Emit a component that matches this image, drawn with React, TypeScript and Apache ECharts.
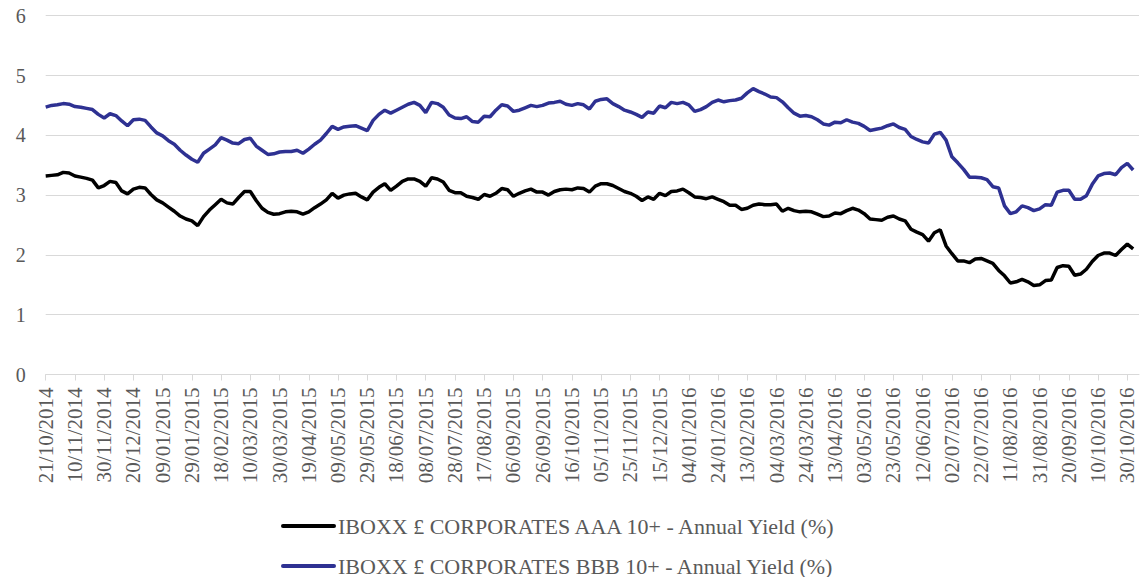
import React, { useEffect, useRef } from "react";
import * as echarts from "echarts";

// Sampling: one category every 4 calendar days, starting 21/10/2014
const START_UTC = Date.UTC(2014, 9, 21);
const STEP_DAYS = 4;
const CATEGORY_COUNT = 188;
const LABEL_EVERY = 5; // one label per 20 days

const pad = (n: number) => String(n).padStart(2, "0");
const categories: string[] = Array.from({ length: CATEGORY_COUNT }, (_, i) => {
  const d = new Date(START_UTC + i * STEP_DAYS * 86400000);
  return `${pad(d.getUTCDate())}/${pad(d.getUTCMonth() + 1)}/${d.getUTCFullYear()}`;
});

const yTicks = { min: 0, max: 6, interval: 1 };
const yTickValues = [0, 1, 2, 3, 4, 5, 6];

const seriesNames = [
  "IBOXX £ CORPORATES AAA 10+ - Annual Yield (%)",
  "IBOXX £ CORPORATES BBB 10+ - Annual Yield (%)",
];

const aaaValues: number[] = [
  3.32, 3.33, 3.34, 3.38, 3.37, 3.32, 3.30, 3.28, 3.25, 3.12,
  3.16, 3.23, 3.21, 3.07, 3.02, 3.10, 3.13, 3.12, 3.01, 2.92,
  2.87, 2.80, 2.73, 2.65, 2.60, 2.57, 2.49, 2.64, 2.75, 2.84,
  2.93, 2.87, 2.85, 2.96, 3.06, 3.06, 2.91, 2.78, 2.71, 2.68,
  2.69, 2.72, 2.73, 2.72, 2.68, 2.72, 2.79, 2.85, 2.92, 3.03,
  2.95, 3.00, 3.02, 3.03, 2.97, 2.92, 3.05, 3.13, 3.19, 3.08,
  3.15, 3.23, 3.27, 3.27, 3.23, 3.15, 3.29, 3.27, 3.22, 3.08,
  3.04, 3.04, 2.98, 2.96, 2.93, 3.01, 2.98, 3.03, 3.11, 3.09,
  2.98, 3.03, 3.07, 3.10, 3.05, 3.05, 3.00, 3.06, 3.09, 3.10,
  3.09, 3.12, 3.11, 3.05, 3.15, 3.19, 3.19, 3.16, 3.11, 3.06,
  3.03, 2.98, 2.91, 2.97, 2.93, 3.03, 2.99, 3.06, 3.07, 3.10,
  3.04, 2.97, 2.96, 2.94, 2.97, 2.93, 2.89, 2.83, 2.83, 2.76,
  2.78, 2.83, 2.85, 2.84, 2.84, 2.85, 2.73, 2.78, 2.74, 2.72,
  2.73, 2.72, 2.68, 2.64, 2.65, 2.70, 2.69, 2.74, 2.78, 2.75,
  2.69, 2.60, 2.59, 2.58, 2.63, 2.65, 2.60, 2.57, 2.43, 2.38,
  2.34, 2.23, 2.37, 2.42, 2.15, 2.02, 1.90, 1.90, 1.87, 1.93,
  1.94, 1.90, 1.86, 1.74, 1.65, 1.53, 1.55, 1.59, 1.55, 1.49,
  1.50, 1.57, 1.58, 1.79, 1.82, 1.81, 1.66, 1.68, 1.76, 1.89,
  1.99, 2.03, 2.03, 1.99, 2.09, 2.18, 2.10,
];

const bbbValues: number[] = [
  4.47, 4.50, 4.51, 4.53, 4.52, 4.48, 4.47, 4.45, 4.43, 4.35,
  4.29, 4.36, 4.33, 4.24, 4.16, 4.26, 4.27, 4.25, 4.14, 4.04,
  3.99, 3.91, 3.85, 3.75, 3.67, 3.60, 3.55, 3.70, 3.77, 3.84,
  3.96, 3.92, 3.87, 3.86, 3.93, 3.95, 3.82, 3.75, 3.68, 3.69,
  3.72, 3.73, 3.73, 3.75, 3.70, 3.77, 3.85, 3.92, 4.03, 4.15,
  4.10, 4.14, 4.15, 4.16, 4.12, 4.08, 4.25, 4.35, 4.42, 4.37,
  4.42, 4.47, 4.52, 4.55, 4.50, 4.38, 4.55, 4.53, 4.47, 4.34,
  4.29, 4.28, 4.31, 4.23, 4.22, 4.32, 4.31, 4.42, 4.51, 4.49,
  4.40, 4.42, 4.46, 4.50, 4.48, 4.50, 4.54, 4.55, 4.57, 4.52,
  4.50, 4.53, 4.51, 4.44, 4.57, 4.60, 4.61, 4.53, 4.48, 4.42,
  4.39, 4.35, 4.30, 4.39, 4.37, 4.49, 4.46, 4.55, 4.53, 4.55,
  4.51, 4.40, 4.43, 4.48, 4.55, 4.59, 4.56, 4.58, 4.59, 4.62,
  4.71, 4.78, 4.73, 4.69, 4.64, 4.63, 4.56, 4.46, 4.37, 4.32,
  4.33, 4.31, 4.26, 4.19, 4.17, 4.22, 4.21, 4.26, 4.22, 4.20,
  4.15, 4.08, 4.10, 4.12, 4.16, 4.19, 4.13, 4.10, 3.98, 3.93,
  3.89, 3.87, 4.02, 4.05, 3.92, 3.64, 3.54, 3.43, 3.30, 3.30,
  3.29, 3.26, 3.14, 3.12, 2.82, 2.69, 2.72, 2.82, 2.79, 2.74,
  2.77, 2.84, 2.83, 3.05, 3.08, 3.08, 2.93, 2.93, 2.99, 3.18,
  3.32, 3.36, 3.37, 3.34, 3.46, 3.53, 3.42,
];

const FONT = "Liberation Serif";
const TEXT_COLOR = "#595959";
const GRID_COLOR = "#d9d9d9";
const COLORS = ["#000000", "#2E3192"];
const GRID = { left: 45.7, right: 1, top: 15.7, bottom: 202.5 };

export default function App() {
  const ref = useRef<HTMLDivElement>(null);

  useEffect(() => {
    document.body.style.margin = "0";
    if (!ref.current) return;
    const chart = echarts.init(ref.current, undefined, { renderer: "svg" });
    chart.setOption({
      animation: false,
      backgroundColor: "#ffffff",
      color: COLORS,
      grid: { ...GRID, containLabel: false },
      xAxis: {
        type: "category",
        data: categories,
        boundaryGap: false,
        axisLine: { show: true, lineStyle: { color: GRID_COLOR, width: 1 } },
        axisTick: { show: true, interval: LABEL_EVERY - 1, length: 6, lineStyle: { color: GRID_COLOR } },
        axisLabel: { show: false },
        splitLine: { show: false },
      },
      yAxis: {
        type: "value",
        min: yTicks.min,
        max: yTicks.max,
        interval: yTicks.interval,
        axisLine: { show: false },
        axisTick: { show: false },
        axisLabel: { show: false },
        splitLine: { show: true, lineStyle: { color: GRID_COLOR, width: 1 } },
      },
      series: [
        {
          name: seriesNames[0],
          type: "line",
          data: aaaValues,
          symbol: "none",
          showSymbol: false,
          lineStyle: { width: 3.5, color: COLORS[0] },
          itemStyle: { color: COLORS[0] },
        },
        {
          name: seriesNames[1],
          type: "line",
          data: bbbValues,
          symbol: "none",
          showSymbol: false,
          lineStyle: { width: 3.5, color: COLORS[1] },
          itemStyle: { color: COLORS[1] },
        },
      ],
    });

    // Axis labels and legend as serif text, placed through the chart's own scales
    const axisY = chart.convertToPixel({ yAxisIndex: 0 }, yTicks.min) as number;
    const xLabels = categories
      .map((c, i) => ({ c, i }))
      .filter(({ i }) => i % LABEL_EVERY === 0)
      .map(({ c, i }) => ({
        type: "text",
        silent: true,
        x: chart.convertToPixel({ xAxisIndex: 0 }, i) as number,
        y: axisY + 13,
        rotation: Math.PI / 2,
        style: {
          text: c,
          fontFamily: FONT,
          fontSize: 21,
          fill: TEXT_COLOR,
          align: "right",
          verticalAlign: "middle",
        },
      }));
    const yLabels = yTickValues.map((v) => ({
      type: "text",
      silent: true,
      x: GRID.left - 20,
      y: chart.convertToPixel({ yAxisIndex: 0 }, v) as number,
      style: {
        text: String(v),
        fontFamily: FONT,
        fontSize: 20,
        fill: TEXT_COLOR,
        align: "right",
        verticalAlign: "middle",
      },
    }));
    const legendRows = [526, 566];
    const legendEls = seriesNames.flatMap((name, k) => [
      {
        type: "line",
        silent: true,
        shape: { x1: 283, y1: legendRows[k], x2: 334, y2: legendRows[k] },
        style: { stroke: COLORS[k], lineWidth: 4, lineCap: "round" },
      },
      {
        type: "text",
        silent: true,
        x: 338,
        y: legendRows[k],
        style: {
          text: name,
          fontFamily: FONT,
          fontSize: 22,
          fill: TEXT_COLOR,
          align: "left",
          verticalAlign: "middle",
        },
      },
    ]);
    chart.setOption({ graphic: [...xLabels, ...yLabels, ...legendEls] });

    return () => chart.dispose();
  }, []);

  return (
    <div
      ref={ref}
      style={{ position: "absolute", left: 0, top: 0, width: 1140, height: 577, background: "#fff" }}
    />
  );
}
